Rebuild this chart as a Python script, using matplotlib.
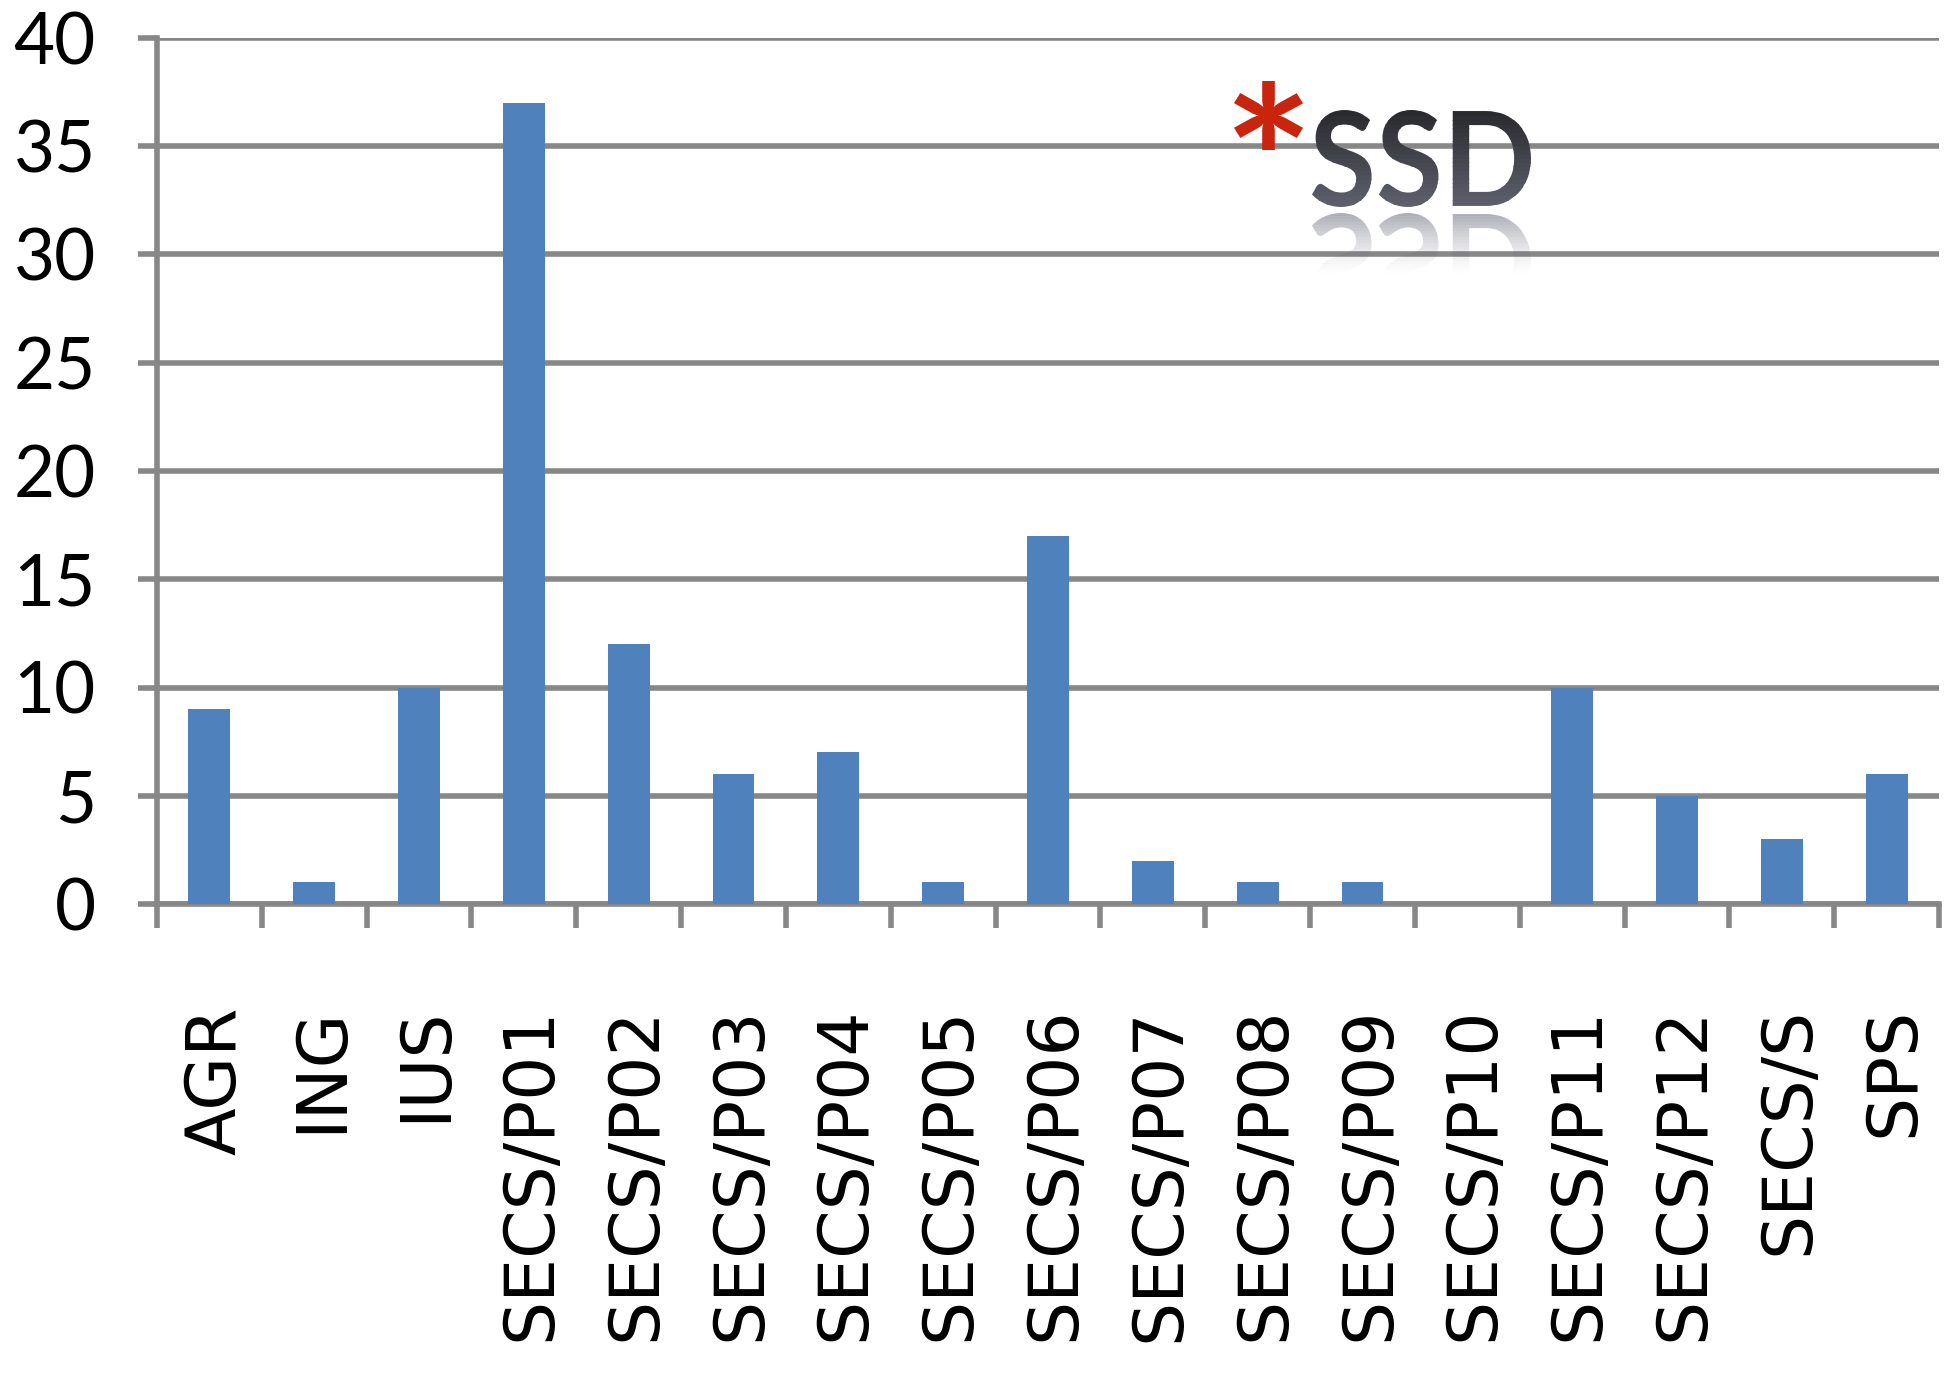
import numpy as np
import matplotlib
matplotlib.use('Agg')
import matplotlib.pyplot as plt
from matplotlib.textpath import TextPath
from matplotlib.patches import PathPatch, Rectangle
from matplotlib.font_manager import FontProperties
from matplotlib.transforms import Affine2D, IdentityTransform, ScaledTranslation

# --- data ---
categories = ['AGR', 'ING', 'IUS', 'SECS/P01', 'SECS/P02', 'SECS/P03', 'SECS/P04',
              'SECS/P05', 'SECS/P06', 'SECS/P07', 'SECS/P08', 'SECS/P09', 'SECS/P10',
              'SECS/P11', 'SECS/P12', 'SECS/S', 'SPS']
counts = [9, 1, 10, 37, 12, 6, 7, 1, 17, 2, 1, 1, 0, 10, 5, 3, 6]
y_ticks = [0, 5, 10, 15, 20, 25, 30, 35, 40]

W, H = 1955, 1382
bar_color = '#4F81BD'
grid_color = '#878787'
line_w = 4.0

fig = plt.figure(figsize=(W / 100, H / 100), dpi=100)
ax = fig.add_axes([157 / W, 1 - 904 / H, (1939 - 157) / W, (904 - 38) / H])

x = np.arange(len(categories))
ax.bar(x, counts, width=0.4, color=bar_color, zorder=3)

ax.set_xlim(-0.5, len(categories) - 0.5)
ax.set_ylim(0, 40)
ax.set_yticks(y_ticks)
ax.set_yticklabels([str(v) for v in y_ticks], fontfamily='Lato', fontsize=51)
ax.yaxis.grid(True, color=grid_color, lw=line_w, zorder=1)
ax.tick_params(axis='y', length=14, width=line_w, color=grid_color, pad=30)

# category boundaries get the ticks, labels sit at bar centres
ax.set_xticks(np.arange(-0.5, len(categories), 1.0))
ax.set_xticklabels([])
ax.set_xticks(x, minor=True)
ax.set_xticklabels(categories, minor=True, rotation=90, va='top', ha='center',
                   fontfamily='DejaVu Sans', fontsize=50)
ax.tick_params(axis='x', which='major', length=17, width=line_w, color=grid_color)
ax.tick_params(axis='x', which='minor', length=0, pad=74)
shift = ScaledTranslation(7 / 100, 0, fig.dpi_scale_trans)
for lbl in ax.get_xticklabels(minor=True):
    lbl.set_transform(lbl.get_transform() + shift)

for side in ['top', 'right']:
    ax.spines[side].set_visible(False)
for side in ['left', 'bottom']:
    ax.spines[side].set_color(grid_color)
    ax.spines[side].set_linewidth(line_w)
ax.set_axisbelow(True)


# --- "*SSD" logo with reflection, drawn in pixel coordinates ---
def fitted_path(text, prop, x0, x1, top, base):
    tp = TextPath((0, 0), text, size=100, prop=prop)
    ext = tp.get_extents()
    sx = (x1 - x0) / ext.width
    sy = (top - base) / ext.height
    tr = Affine2D().translate(-ext.x0, -ext.y0).scale(sx, sy).translate(x0, base)
    return tr.transform_path(tp)


logo_prop = FontProperties(family='Lato', weight='bold')
base_y = H - 207
top_y = H - 110
ssd = fitted_path('SSD', logo_prop, 1312, 1531, top_y, base_y)
mirror_y = base_y - 3
ssd_refl = Affine2D().scale(1, -1).translate(0, 2 * mirror_y).transform_path(ssd)

c_top = np.array([0.16, 0.16, 0.17])
c_bot = np.array([0.37, 0.38, 0.43])
nb = 24
band_h = (top_y - base_y + 4) / nb
for i in range(nb):
    y0 = base_y - 2 + i * band_h
    t = i / (nb - 1)
    col = c_bot * (1 - t) + c_top * t
    clip = Rectangle((1290, y0), 260, band_h + 0.6, transform=IdentityTransform())
    p = PathPatch(ssd, facecolor=col, edgecolor='none', transform=IdentityTransform())
    p.set_clip_path(clip)
    fig.add_artist(p)

refl_len = 60
nb2 = 20
band_h2 = refl_len / nb2
for i in range(nb2):
    y1 = mirror_y - 3 - i * band_h2
    alpha = 0.5 * (1 - i / nb2) ** 1.4
    clip = Rectangle((1290, y1 - band_h2 - 0.4), 260, band_h2 + 0.4, transform=IdentityTransform())
    p = PathPatch(ssd_refl, facecolor='#5d6070', edgecolor='none', alpha=alpha,
                  transform=IdentityTransform())
    p.set_clip_path(clip)
    fig.add_artist(p)

star = fitted_path('*', logo_prop, 1234, 1303, H - 81, H - 150)
fig.add_artist(PathPatch(star, facecolor='#C8240E', edgecolor='none', transform=IdentityTransform()))

fig.savefig('out.png', dpi=100)
